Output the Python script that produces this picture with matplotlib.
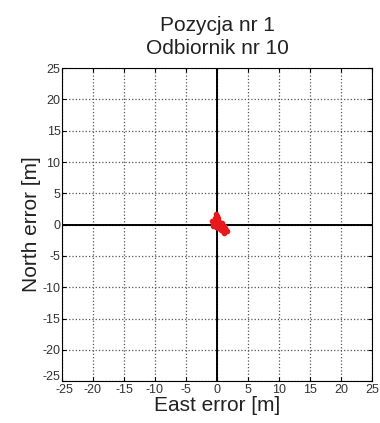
import matplotlib
matplotlib.use("Agg")
import matplotlib.pyplot as plt
import matplotlib.transforms as mtrans
import numpy as np

plt.rcParams["font.family"] = ["Liberation Sans", "DejaVu Sans"]
plt.rcParams["axes.unicode_minus"] = False

TITLE = "Pozycja nr 1\nOdbiornik nr 10"
X_LABEL = "East error [m]"
Y_LABEL = "North error [m]"
TICKS = [-25, -20, -15, -10, -5, 0, 5, 10, 15, 20, 25]

# east / north error samples
east = [-0.2, 0.0, -0.3, 0.1, -0.5, -0.2, 0.2, 0.4, -0.7, -0.4, 0.0, 0.3,
        0.6, 0.8, -0.6, -0.1, 0.5, 0.9, 1.1, 0.7, 1.2, 1.4, 0.9, 1.5,
        1.1, 0.6, 1.3, 0.2, -0.3, 0.8, -0.8, 1.6]
north = [1.7, 1.4, 1.1, 1.0, 0.6, 0.7, 0.5, 0.4, 0.2, 0.0, 0.1, -0.1,
         0.2, 0.0, -0.2, -0.4, -0.3, -0.2, -0.5, -0.6, -0.3, -0.8, -1.0,
         -1.1, -1.3, -0.9, -0.5, -0.5, -0.1, 0.3, 0.5, -1.0]

fig = plt.figure(figsize=(3.8, 4.23), dpi=100)
ax = fig.add_axes([0.163, 0.099, 0.816, 0.740])

ax.axhline(0, color="black", lw=1.4, zorder=2)
ax.axvline(0, color="black", lw=1.4, zorder=2)
ax.plot(east, north, ".", color="#e8191c", ms=6, zorder=3)

ax.set_xlim(-25, 25)
ax.set_ylim(-25, 25)
ax.set_xticks(TICKS)
ax.set_yticks(TICKS)
ax.grid(True, ls=":", color="#555555", lw=0.9)
ax.tick_params(direction="in", labelsize=9, length=3, pad=2,
               top=True, right=True, labelcolor="#333333")
ax.tick_params(axis="y", pad=1)
for s in ax.spines.values():
    s.set_linewidth(0.8)

# corner labels: nudge apart like the original (-25 / -25)
fig.canvas.draw()
lab_y = ax.get_yticklabels()[0]
lab_y.set_transform(lab_y.get_transform() + mtrans.ScaledTranslation(0, 4 / 72, fig.dpi_scale_trans))
lab_x = ax.get_xticklabels()[0]
lab_x.set_transform(lab_x.get_transform() + mtrans.ScaledTranslation(2 / 72, 0, fig.dpi_scale_trans))

ax.set_title(TITLE, fontsize=15, pad=10, linespacing=1.3, color="#222222")
ax.set_xlabel(X_LABEL, fontsize=15, labelpad=0, color="#222222")
ax.set_ylabel(Y_LABEL, fontsize=15, labelpad=1, color="#222222")

fig.savefig("out.png", dpi=100)
